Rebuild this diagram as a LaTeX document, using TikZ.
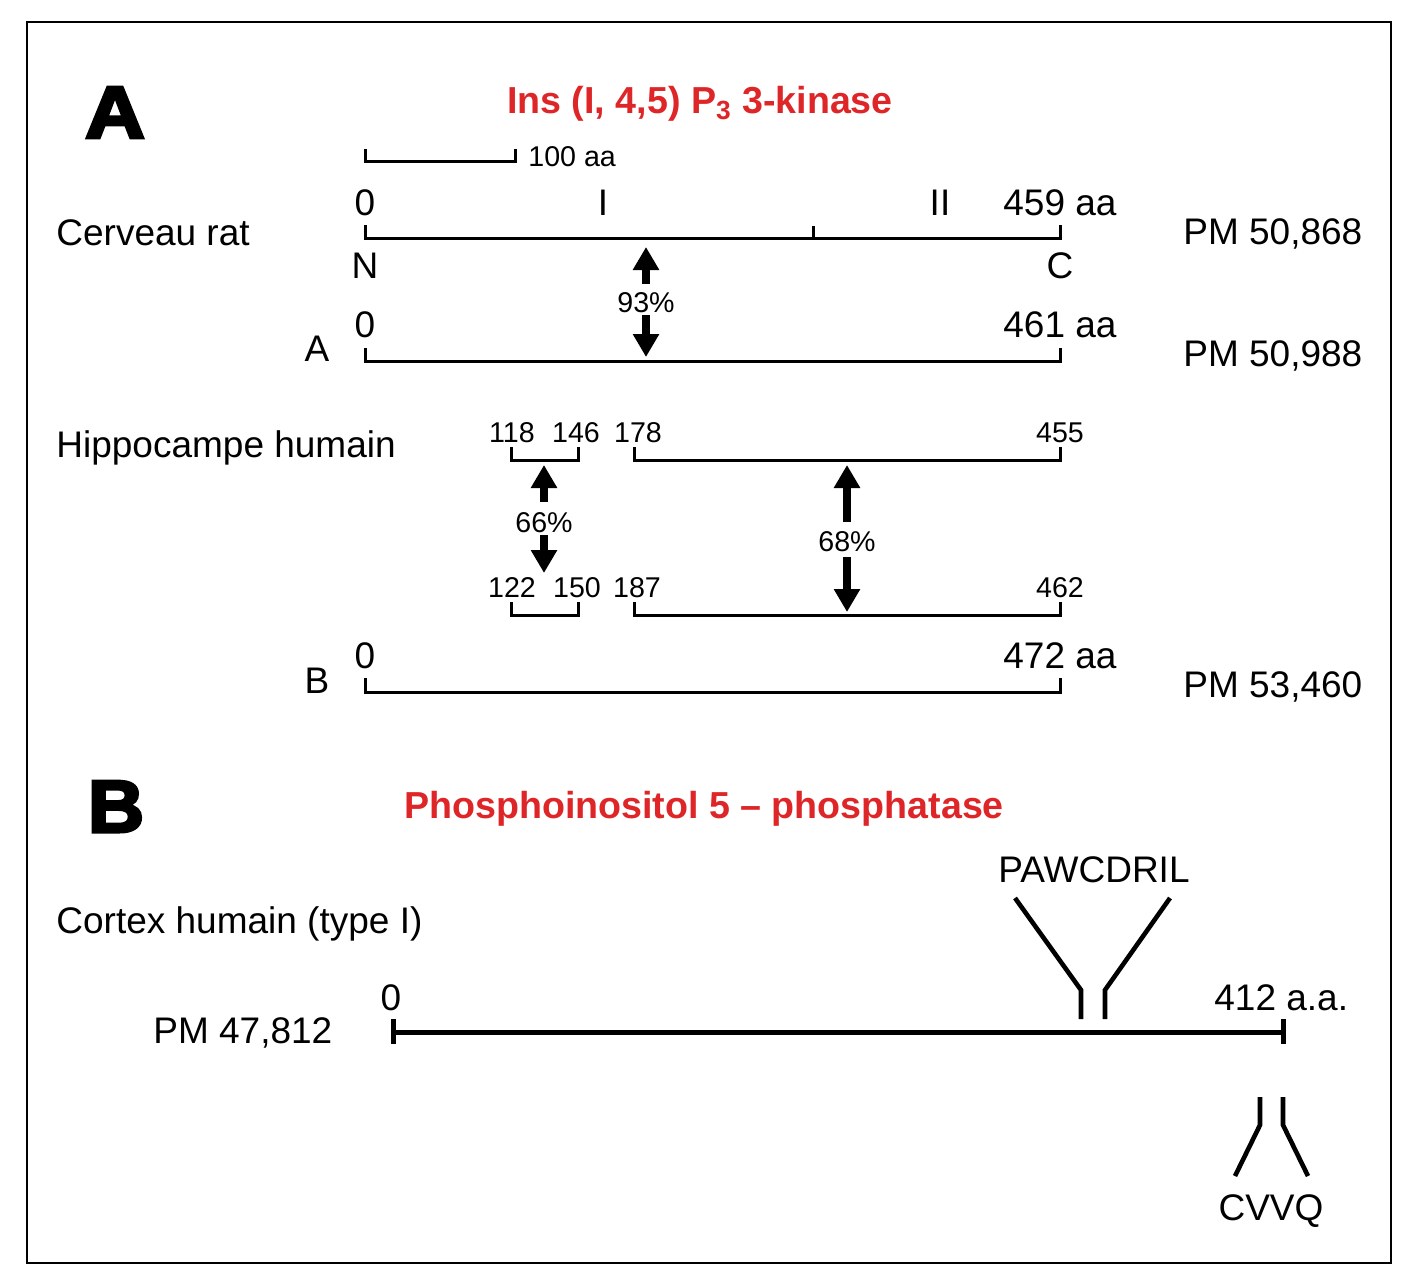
\documentclass[tikz,border=0pt]{standalone}
\usepackage{fontspec}
\setmainfont{Liberation Sans}
\newfontfamily\heavyfont[FakeBold=4]{Liberation Sans Bold}
\usepackage{xcolor}
\usetikzlibrary{arrows.meta}
\definecolor{titlered}{RGB}{222,38,40}

\begin{document}
\begin{tikzpicture}[x=0.5pt,y=-0.5pt,
    lbl/.style={inner sep=0pt,font=\fontsize{18.5}{22}\selectfont},
    small/.style={inner sep=0pt,font=\fontsize{14.3}{17}\selectfont},
    title/.style={inner sep=0pt,text=titlered,font=\bfseries\fontsize{18.8}{22}\selectfont},
    panel/.style={inner sep=0pt,font=\heavyfont\fontsize{37}{40}\selectfont},
    seq/.style={line width=1.5pt},
    hom/.style={line width=3.6pt,-{Triangle[width=12.5pt,length=11.5pt]}},
    motif/.style={line width=2.3pt}]
    % page and frame
    \fill[white] (0,0) rectangle (1412,1280);
    \draw[line width=1pt] (27,22) rectangle (1391,1263);

    % ---------- A ----------
    \node[panel, anchor=base, xscale=1.12] (panA) at (115,138) {A};
    \node[title, anchor=base] (titleA) at (700,113) {Ins (I, 4,5) P\textsubscript{3} 3-kinase};
    % scale bar
    \draw[seq] (365,149) -- (365,161) -- (515,161) -- (515,149);
    \node[small, anchor=base west] (scale) at (528,166) {100 aa};

    % rat brain
    \node[lbl, anchor=base west] (rat) at (56,245) {Cerveau rat};
    \draw[seq] (365,225) -- (365,238) -- (1060,238) -- (1060,225);
    \draw[seq] (813,238) -- (813,226);
    \coordinate (ratmid) at (646,238);
    \node[lbl, anchor=base] (rat0) at (365,215) {0};
    \node[lbl, anchor=base] (domI) at (603,215) {I};
    \node[lbl, anchor=base] (domII) at (940,215) {II};
    \node[lbl, anchor=base west] (ratend) at (1003,215) {459 aa};
    \node[lbl, anchor=base] (nterm) at (365,278) {N};
    \node[lbl, anchor=base] (cterm) at (1060,278) {C};
    \node[lbl, anchor=base west] (pmrat) at (1183,244) {PM 50,868};

    % isoform A
    \draw[seq] (365,348) -- (365,361) -- (1060,361) -- (1060,348);
    \coordinate (amid) at (646,361);
    \node[lbl, anchor=base] (a0) at (365,337) {0};
    \node[lbl, anchor=base west] (aend) at (1003,337) {461 aa};
    \node[lbl, anchor=base] (aname) at (317,361) {A};
    \node[lbl, anchor=base west] (pma) at (1183,366) {PM 50,988};
    \node[small, anchor=base] (h93) at (646,312) {93\%};
    \draw[hom] ([yshift=14pt]h93.base) -- ([yshift=-4.5pt]ratmid);
    \draw[hom] ([yshift=-1.5pt]h93.base) -- ([yshift=2pt]amid);

    % human hippocampus
    \node[lbl, anchor=base west] (hippo) at (56,457) {Hippocampe humain};
    \draw[seq] (511,447) -- (511,460) -- (578,460) -- (578,447);
    \draw[seq] (634,447) -- (634,460) -- (1060,460) -- (1060,447);
    \draw[seq] (511,602) -- (511,615) -- (578,615) -- (578,602);
    \draw[seq] (634,602) -- (634,615) -- (1060,615) -- (1060,602);
    \foreach \x/\num in {512/118, 576/146, 638/178, 1060/455}{
        \node[small, anchor=base] at (\x,442) {\num};
    }
    \foreach \x/\num in {512/122, 577/150, 637/187, 1060/462}{
        \node[small, anchor=base] at (\x,597) {\num};
    }
    \coordinate (shortup) at (544,460);
    \coordinate (shortdown) at (544,573);
    \coordinate (longup) at (847,460);
    \coordinate (longdown) at (847,615);
    \node[small, anchor=base] (h66) at (544,532) {66\%};
    \node[small, anchor=base] (h68) at (847,551) {68\%};
    \draw[hom] ([yshift=15pt]h66.base) -- ([yshift=-2.5pt]shortup);
    \draw[hom] ([yshift=-1.5pt]h66.base) -- (shortdown);
    \draw[hom] ([yshift=14.5pt]h68.base) -- ([yshift=-2.5pt]longup);
    \draw[hom] ([yshift=-3pt]h68.base) -- ([yshift=1.5pt]longdown);

    % isoform B
    \draw[seq] (365,678) -- (365,692) -- (1060,692) -- (1060,678);
    \node[lbl, anchor=base] (b0) at (365,668) {0};
    \node[lbl, anchor=base west] (bend) at (1003,668) {472 aa};
    \node[lbl, anchor=base] (bname) at (317,693) {B};
    \node[lbl, anchor=base west] (pmb) at (1183,697) {PM 53,460};

    % ---------- B ----------
    \node[panel, anchor=base, xscale=1.05] (panB) at (116,832) {B};
    \node[title, anchor=base] (titleB) at (704,818) {Phosphoinositol 5 -- phosphatase};
    \node[lbl, anchor=base west] (cortex) at (56,933) {Cortex humain (type I)};
    \node[lbl, anchor=base west] (pmcortex) at (153,1043) {PM 47,812};
    \draw[line width=2.5pt] (393,1032) -- (1283,1032);
    \draw[line width=2.5pt] (393,1019) -- (393,1044);
    \draw[line width=2.5pt] (1283,1019) -- (1283,1044);
    \node[lbl, anchor=base] (c0) at (391,1010) {0};
    \node[lbl, anchor=base west] (cend) at (1214,1010) {412 a.a.};
    % motifs
    \node[lbl, anchor=base] (pawc) at (1094,882) {PAWCDRIL};
    \draw[motif] (1015,898) -- (1081,990) -- (1081,1019);
    \draw[motif] (1170,898) -- (1105,990) -- (1105,1019);
    \node[lbl, anchor=base] (cvvq) at (1271,1220) {CVVQ};
    \draw[motif] (1260,1097) -- (1260,1125) -- (1235,1176);
    \draw[motif] (1283,1097) -- (1283,1125) -- (1308,1176);
\end{tikzpicture}
\end{document}
